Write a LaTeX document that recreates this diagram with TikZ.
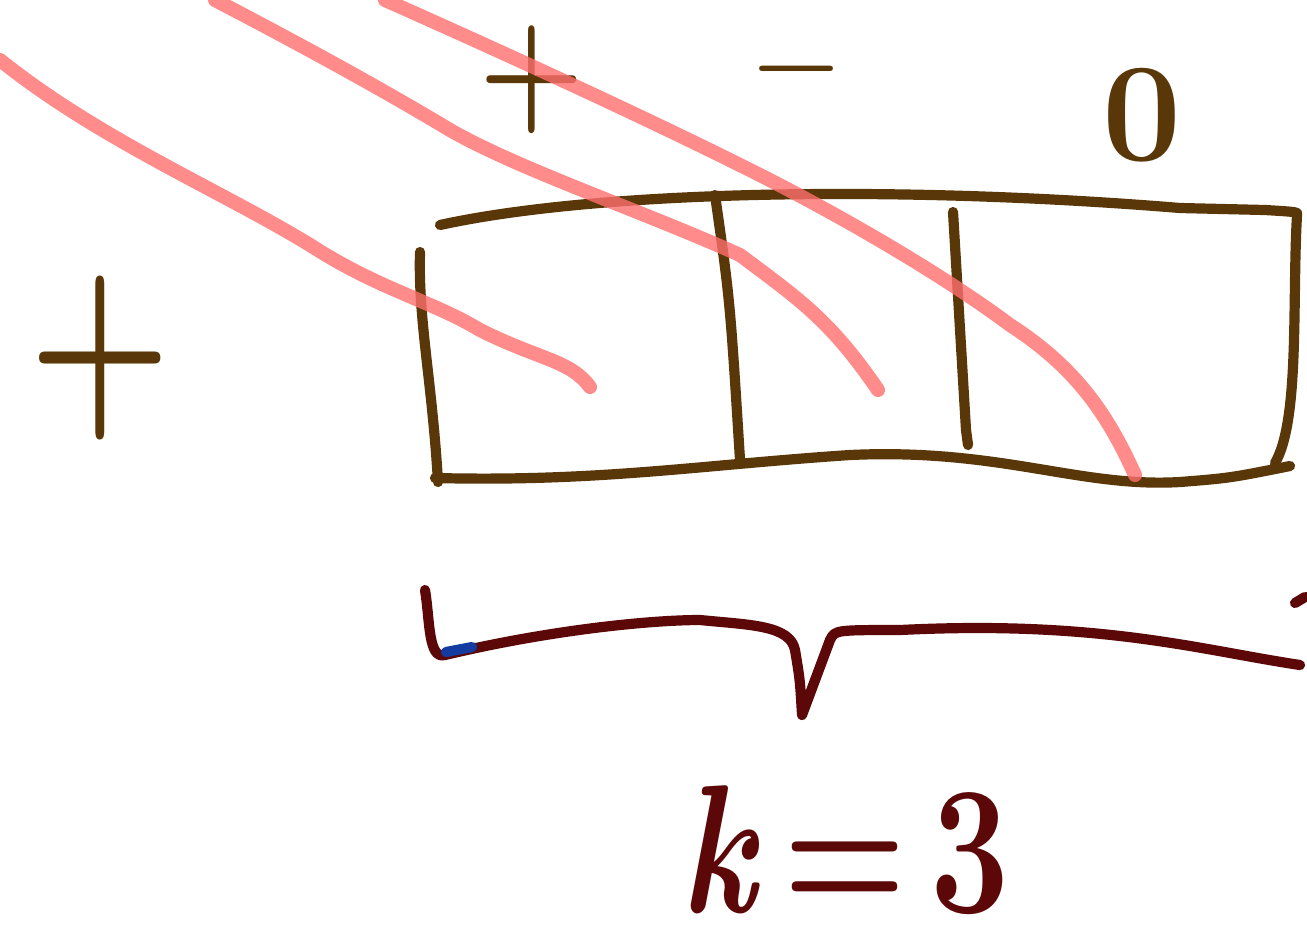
\documentclass[tikz,border=0pt]{standalone}
\usepackage{xcolor}
\definecolor{ink}{RGB}{90,55,8}
\definecolor{marker}{RGB}{255,110,110}
\definecolor{maroon}{RGB}{92,8,8}
\definecolor{pen}{RGB}{20,60,160}

\begin{document}
\begin{tikzpicture}[x=0.01cm, y=-0.01cm, line cap=round, line join=round,
  inkline/.style={draw=ink, line width=2.9pt},
  redline/.style={draw=marker, line width=4pt, opacity=0.8},
  braceline/.style={draw=maroon, line width=2.9pt},
  sign/.style={text=ink, inner sep=0pt, transform shape},
  klabel/.style={text=maroon, font=\fontsize{40}{46}\selectfont\bfseries, inner sep=0pt, transform shape}]
\useasboundingbox (0,0) rectangle (1307,948);

% box corners
\coordinate (tl) at (440,225);
\coordinate (tr) at (1297,215);
\coordinate (bl) at (438,482);
\coordinate (br) at (1290,466);

% signs
\node[sign, font=\fontsize{34}{40}\selectfont\bfseries, yscale=1.2] (p1) at (532,80) {+};
\node[sign, font=\fontsize{28}{32}\selectfont\bfseries] (m1) at (797,80) {−};
\node[sign, font=\fontsize{40}{46}\selectfont\bfseries] (z1) at (1142,115) {0};
\node[sign, font=\fontsize{46}{52}\selectfont\bfseries, yscale=1.35] (p2) at (100,358) {+};

% box
\draw[inkline] (tl) .. controls (600,190) and (900,185) .. (1180,208) -- (1265,210) .. controls (1298,212) .. (tr);
\draw[inkline] (420,252) .. controls (418,320) and (432,380) .. (bl);
\draw[inkline] (tr) .. controls (1292,300) and (1300,420) .. (1275,463);
\draw[inkline] (435,478) .. controls (600,482) and (700,465) .. (850,455)
  .. controls (1000,448) and (1080,488) .. (1180,482) .. controls (1230,478) .. (br);
\draw[inkline] (715,195) .. controls (730,300) .. (740,460);
\draw[inkline] (953,212) -- (966,430) -- (968,445);

% red strokes
\draw[redline] (0,60) .. controls (100,140) and (220,190) .. (310,245)
  .. controls (380,290) and (430,300) .. (480,330) .. controls (540,360) and (570,360) .. (590,387);
\draw[redline] (215,0) .. controls (330,60) and (400,100) .. (450,130)
  .. controls (520,170) and (640,210) .. (740,255) .. controls (800,300) and (830,320) .. (878,390);
\draw[redline] (385,0) .. controls (520,60) and (650,120) .. (750,170)
  .. controls (850,220) and (950,280) .. (1010,325) .. controls (1080,370) and (1110,420) .. (1135,475);

% brace
\coordinate (btip) at (802,715);
\draw[braceline] (425,590) .. controls (430,620) and (428,660) .. (445,655)
  .. controls (550,630) and (650,620) .. (700,620) .. controls (750,625) and (790,625) .. (795,650)
  .. controls (800,680) .. (btip) -- (830,640) .. controls (835,630) .. (900,630)
  .. controls (1100,620) and (1200,650) .. (1300,665);
\draw[braceline] (1295,603) -- (1305,597);
\draw[draw=pen, line width=2.9pt] (446,652) -- (472,647);

% label
\node[klabel, yscale=1.3] (k) at (845,850) {\textit{k}\,=\,3};
\end{tikzpicture}
\end{document}
